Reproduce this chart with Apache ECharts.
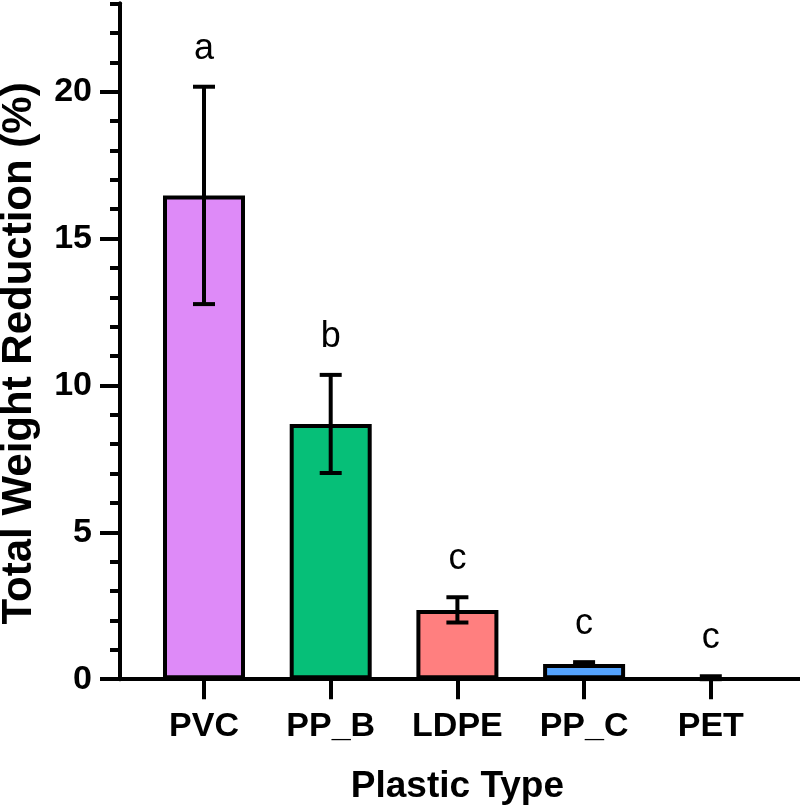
<!DOCTYPE html>
<html>
<head>
<meta charset="utf-8">
<script src="https://cdn.jsdelivr.net/npm/echarts@6/dist/echarts.min.js"></script>
<style>
  html, body { margin: 0; padding: 0; background: #fff; }
  #chart { width: 800px; height: 810px; }
</style>
</head>
<body>
<div id="chart"></div>
<script>
// plastic types and their mean / SD of total weight reduction (%)
const categories = ["PVC", "PP_B", "LDPE", "PP_C", "PET"]
const means = [16.47, 8.69, 2.36, 0.52, 0.01]
const sds = [3.7, 1.67, 0.43, 0.06, 0.09]
const letters = ["a", "b", "c", "c", "c"]
const barColors = ["#DE8AF8", "#06BF78", "#FF7F7F", "#55A4FF", "#FFFFFF"]
const majorTicks = [0, 5, 10, 15, 20]

const FONT = "Liberation Sans, Arial, sans-serif"

const chart = echarts.init(document.getElementById("chart"), null, { renderer: "canvas" })

const gridTop = 3.6
const gridBottom = 130.8

function renderErrorBar(params, api) {
  const i = api.value(0)
  const m = api.value(1)
  const s = api.value(2)
  const top = api.coord([i, m + s])
  const bottom = api.coord([i, Math.max(m - s, 0)])
  const capHalf = 11
  const style = { stroke: "#000", lineWidth: 4 }
  return {
    type: "group",
    children: [
      { type: "line", shape: { x1: top[0], y1: top[1], x2: bottom[0], y2: bottom[1] }, style },
      { type: "line", shape: { x1: top[0] - capHalf, y1: top[1], x2: top[0] + capHalf, y2: top[1] }, style },
      { type: "line", shape: { x1: bottom[0] - capHalf, y1: bottom[1], x2: bottom[0] + capHalf, y2: bottom[1] }, style },
      {
        type: "text",
        x: top[0],
        y: top[1] - 20,
        style: {
          text: letters[i],
          fill: "#000",
          font: "normal 36px " + FONT,
          align: "center",
          verticalAlign: "bottom"
        }
      }
    ]
  }
}

const option = {
  animation: false,
  backgroundColor: "#fff",
  grid: [
    { left: 140.65, right: 25.85, top: gridTop, bottom: gridBottom, outerBoundsMode: "none" },
    { left: 120, right: 0, top: gridTop, bottom: gridBottom, outerBoundsMode: "none" }
  ],
  xAxis: [
    {
      type: "category",
      gridIndex: 0,
      data: categories,
      boundaryGap: true,
      axisLine: { show: true, lineStyle: { color: "#000", width: 4 } },
      axisTick: { show: true, alignWithLabel: true, length: 20, lineStyle: { color: "#000", width: 4 } },
      axisLabel: { color: "#000", fontSize: 34, fontWeight: "bold", fontFamily: FONT, margin: 30 },
      name: "Plastic Type",
      nameLocation: "middle",
      nameGap: 89,
      nameTextStyle: { color: "#000", fontSize: 37, fontWeight: "bold", fontFamily: FONT }
    },
    {
      type: "value",
      gridIndex: 1,
      min: 0,
      max: 1,
      axisLine: { show: true, lineStyle: { color: "#000", width: 4 } },
      axisTick: { show: false },
      axisLabel: { show: false },
      splitLine: { show: false }
    }
  ],
  yAxis: [
    {
      type: "value",
      gridIndex: 0,
      position: "left",
      offset: 20.65,
      min: 0,
      max: 23,
      interval: 1,
      axisLine: { show: true, lineStyle: { color: "#000", width: 4 } },
      axisTick: { show: true, length: 10, lineStyle: { color: "#000", width: 4 } },
      axisLabel: { show: false },
      splitLine: { show: false }
    },
    {
      type: "value",
      gridIndex: 0,
      position: "left",
      offset: 20.65,
      min: 0,
      max: 23,
      axisLine: { show: true, lineStyle: { color: "#000", width: 4 } },
      axisTick: { show: true, length: 20, customValues: majorTicks, lineStyle: { color: "#000", width: 4 } },
      axisLabel: {
        customValues: majorTicks,
        color: "#000",
        fontSize: 34,
        fontWeight: "bold",
        fontFamily: FONT,
        margin: 28
      },
      splitLine: { show: false },
      name: "Total Weight Reduction (%)",
      nameLocation: "middle",
      nameGap: 80,
      nameRotate: 90,
      nameTextStyle: {
        color: "#000",
        fontSize: 42,
        fontWeight: "bold",
        fontFamily: FONT,
        padding: [0, 24, 0, 0]
      }
    },
    {
      type: "value",
      gridIndex: 1,
      min: 0,
      max: 1,
      show: false
    }
  ],
  series: [
    {
      type: "bar",
      xAxisIndex: 0,
      yAxisIndex: 0,
      barWidth: 82,
      data: means.map((v, i) => ({
        value: v,
        itemStyle: { color: barColors[i], borderColor: "#000", borderWidth: 4 }
      })),
      z: 2
    },
    {
      type: "custom",
      xAxisIndex: 0,
      yAxisIndex: 0,
      renderItem: renderErrorBar,
      data: means.map((v, i) => [i, v, sds[i]]),
      z: 5
    }
  ]
}

chart.setOption(option)
</script>
</body>
</html>
